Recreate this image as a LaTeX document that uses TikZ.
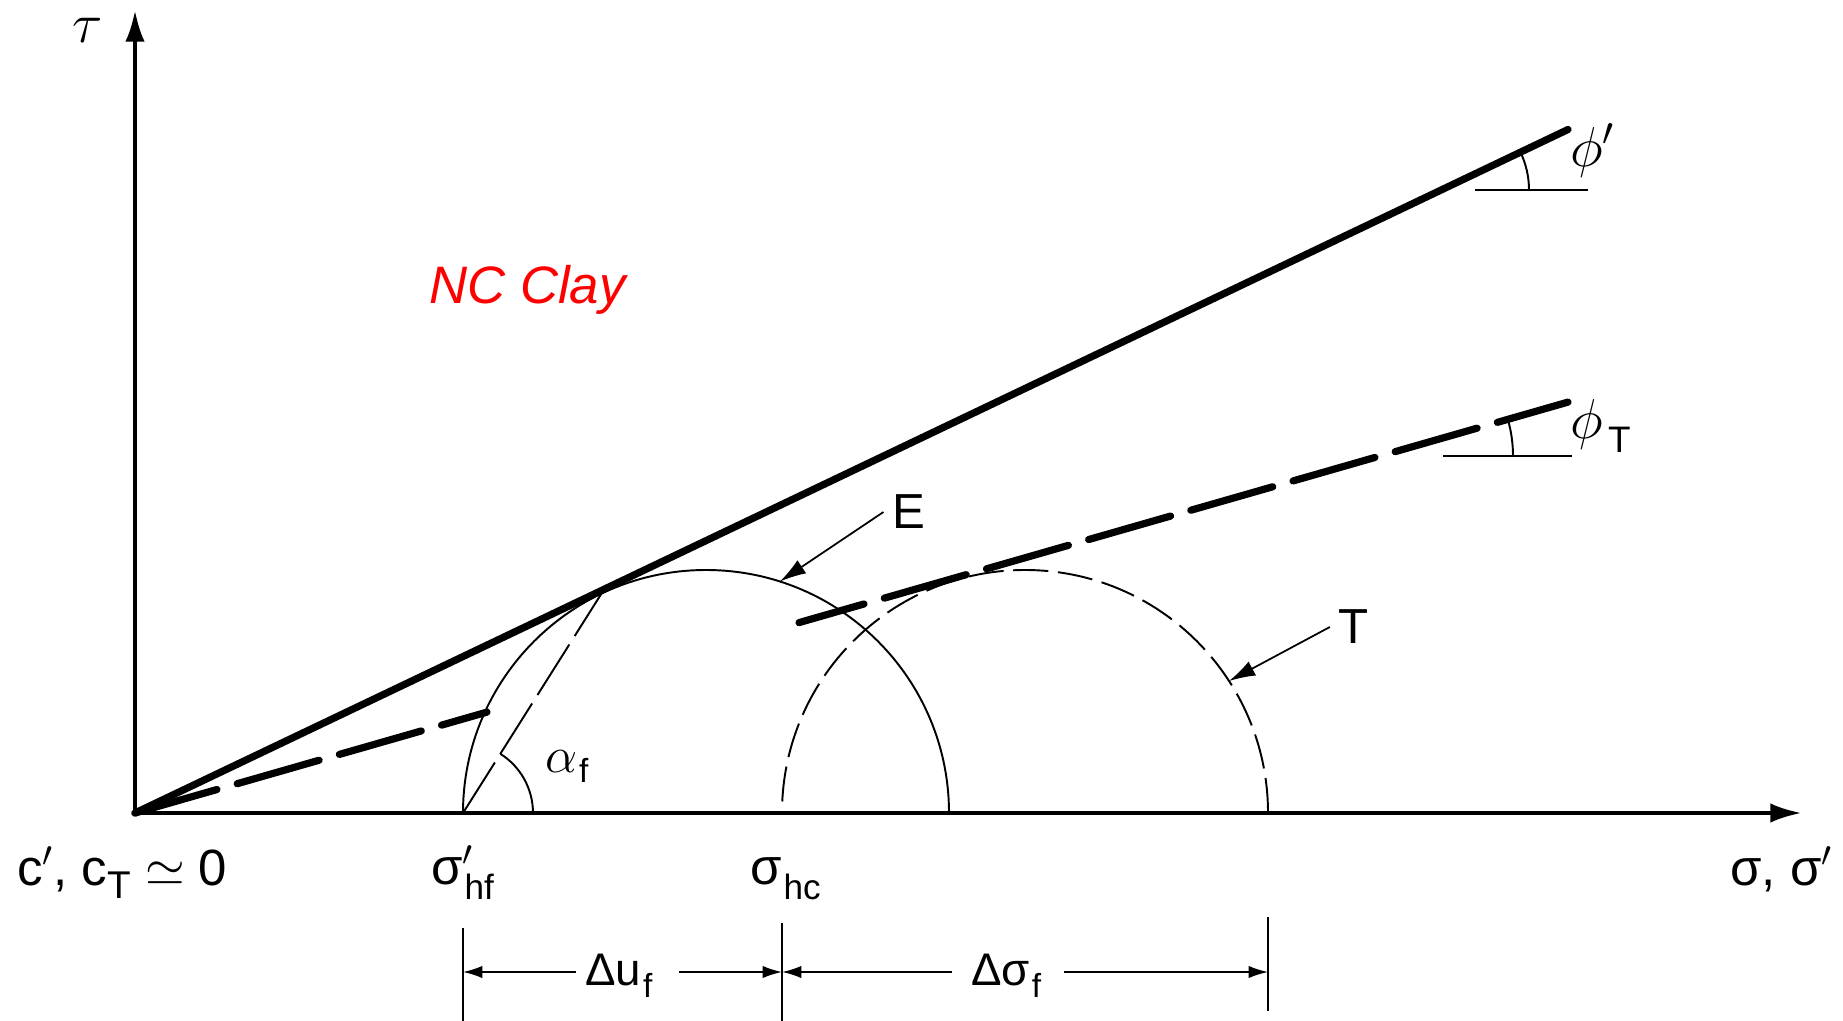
\RequirePackage{fix-cm}
\documentclass[tikz,border=0pt]{standalone}
\usepackage{fontspec}
\setmainfont{Liberation Sans}
\usetikzlibrary{arrows.meta,calc}
\newcommand\fsz[1]{\fontsize{#1}{#1}\selectfont}
\begin{document}
\begin{tikzpicture}[x=0.02cm,y=-0.02cm,
  axisline/.style={line width=2.4pt},
  axtip/.tip={Latex[length=18pt,width=11pt]},
  thickline/.style={line width=4.1pt,line cap=round},
  thinline/.style={line width=1.1pt},
  tdash/.style={thinline,dash pattern=on 20pt off 5.5pt},
  adash/.style={thinline,dash pattern=on 34pt off 5.7pt},
  tdashthick/.style={thickline,dash pattern=on 48.5pt off 12pt},
  dimline/.style={line width=0.9pt},
  dimarrow/.style={line width=0.9pt,-{Latex[length=11pt,width=7pt]}},
  labarrow/.style={line width=1pt,-{Latex[length=15pt,width=9pt]}},
  lbl/.style={inner sep=0pt,font=\fsz{29}},
]
\useasboundingbox (0,0) rectangle (1843,1021);
% key points
\coordinate (O) at (135,813);
\coordinate (xend) at (1802,813);
\coordinate (yend) at (135,10);
\coordinate (Ec) at (706,813);
\coordinate (Tc) at (1025,813);
\coordinate (El) at (463,813);
\coordinate (Er) at (949,813);
\coordinate (Tl) at (782,813);
\coordinate (Tr) at (1268,813);
\coordinate (pend) at (1568,129.5);
\coordinate (q1) at (487,712.1);
\coordinate (q2) at (799,622.6);
\coordinate (qend) at (1568,402.1);
\coordinate (tp) at ($(Ec)+(-115.5:243)$);
% axes
\draw[axisline,{axtip}-{axtip}] (xend) -- (O) -- (yend);
% circles
\draw[thinline] (Er) arc[start angle=0,end angle=-180,radius=243];
\draw[tdash] (Tr) arc[start angle=0,end angle=-180,radius=243];
% envelopes
\draw[thickline] (O) -- (pend);
\draw[tdashthick] (O) -- (q1);
\draw[tdashthick,dash phase=10pt] (q2) -- (qend);
% alpha_f
\draw[adash] (El) -- (tp);
\draw[thinline] ($(El)+(70,0)$) arc[start angle=0,end angle=-57.75,radius=70];
\node[lbl,anchor=base west] (alf) at (545,772) {\fsz{29}$\alpha$\kern1pt\raisebox{-6pt}{\fsz{19}f}};
% phi' marker
\coordinate (h1a) at (1475,190);
\coordinate (h1b) at (1588,190);
\coordinate (v1) at (1441,190);
\draw[thinline] (h1a) -- (h1b);
\draw[thinline] ($(v1)+(88,0)$) arc[start angle=0,end angle=-25.5,radius=88];
\node[lbl,font=\fsz{32},anchor=base west] (phip) at (1570,166) {$\phi'$};
% phi_T marker
\coordinate (h2a) at (1443,456);
\coordinate (h2b) at (1572,456);
\coordinate (v2) at (1380,456);
\draw[thinline] (h2a) -- (h2b);
\draw[thinline] ($(v2)+(133,0)$) arc[start angle=0,end angle=-16,radius=133];
\node[lbl,anchor=base west] (phiT) at (1570,438) {\fsz{32}$\phi$\kern3pt\raisebox{-8.5pt}{\fsz{21}T}};
% labels
\node[lbl,font=\fsz{32}] (tau) at (88,30) {$\tau$};
\node[inner sep=0pt,anchor=base west,text=red,font=\fsz{30}\itshape] (nc) at (429,303) {NC Clay};
\node[inner sep=5pt,font=\fsz{28}] (Elab) at (909,512) {E};
\node[inner sep=5pt,font=\fsz{28}] (Tlab) at (1354,627) {T};
\coordinate (Ept) at ($(Ec)+(-72.3:243)$);
\coordinate (Tpt) at ($(Tc)+(-32.9:243)$);
\draw[labarrow] (Elab.west) -- (Ept);
\draw[labarrow] (Tlab.west) -- (Tpt);
\node[lbl,anchor=base west] (corig) at (17,885) {c$'$, c\raisebox{-7.4pt}{\fsz{22}T} $\simeq$ 0};
\node[lbl,anchor=base west] (shf) at (431,884) {σ\rlap{$'$}\raisebox{-9pt}{\fsz{20}\kern1pt hf}};
\node[lbl,anchor=base west] (shc) at (750,884) {σ\raisebox{-9pt}{\fsz{20}\kern1pt hc}};
\node[lbl,anchor=base west] (axlab) at (1730,885) {σ, σ$'$};
% dimensions
\coordinate (t1a) at (463,928); \coordinate (t1b) at (463,1021);
\coordinate (t2a) at (782,923); \coordinate (t2b) at (782,1021);
\coordinate (t3a) at (1268,917); \coordinate (t3b) at (1268,1011);
\draw[dimline] (t1a) -- (t1b);
\draw[dimline] (t2a) -- (t2b);
\draw[dimline] (t3a) -- (t3b);
\node[lbl,anchor=base west,font=\fsz{26}] (du) at (585,985) {Δu\raisebox{-7pt}{\fsz{19}\kern1pt f}};
\node[lbl,anchor=base west,font=\fsz{26}] (dsig) at (971,985) {Δσ\raisebox{-7pt}{\fsz{19}\kern1pt f}};
\coordinate (a1) at (576,972); \coordinate (a1t) at (463,972);
\coordinate (a2) at (679,972); \coordinate (a2t) at (782,972);
\coordinate (a3) at (952,972); \coordinate (a3t) at (782,972);
\coordinate (a4) at (1064,972); \coordinate (a4t) at (1268,972);
\draw[dimarrow] (a1) -- (a1t);
\draw[dimarrow] (a2) -- (a2t);
\draw[dimarrow] (a3) -- (a3t);
\draw[dimarrow] (a4) -- (a4t);
\end{tikzpicture}
\end{document}
